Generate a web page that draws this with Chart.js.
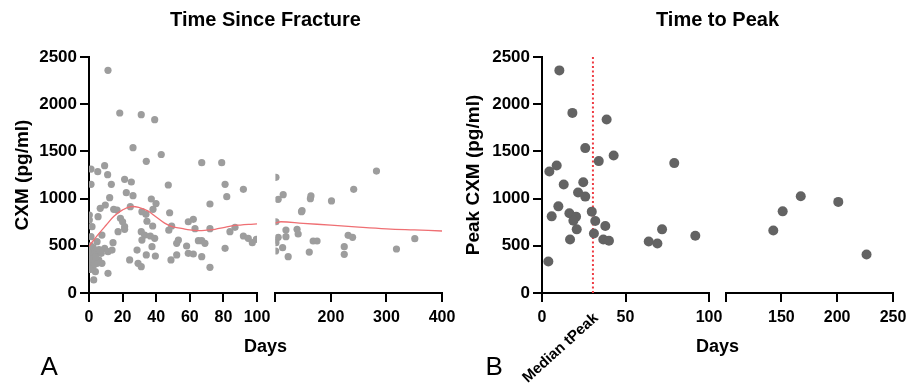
<!DOCTYPE html>
<html><head><meta charset="utf-8">
<script src="https://cdn.jsdelivr.net/npm/chart.js@4"></script>
<style>
html,body{margin:0;padding:0;background:#fff;}
#wrap{position:relative;width:913px;height:390px;overflow:hidden;}
canvas{position:absolute;top:0;}
#cA{left:0;}
#cB{left:456px;}
</style></head><body>
<div id="wrap">
<canvas id="cA" width="456" height="390"></canvas>
<canvas id="cB" width="457" height="390"></canvas>
</div>
<script>
// ---------- DATA ----------
// Panel A: CXM vs time since fracture (days)
const fractureDays = [11.3,18.3,31.1,39.1,26.2,43.0,34.1,1.2,5.2,9.3,11.1,1.2,13.3,21.2,25.2,22.2,26.2,12.3,47.2,37.1,39.9,
  0.2,0.2,1.8,1.2,0.2,1.8,0.8,1.8,3.8,2.8,9.7,6.7,5.4,14.7,16.7,18.7,20.0,17.3,21.2,7.7,4.8,9.3,7.3,11.3,13.7,14.3,5.8,7.7,11.3,4.8,
  2.5,3.5,1.0,2.0,3.0,4.0,6.0,0.5,24.6,21.2,24.2,28.6,29.2,31.1,38.1,31.5,33.9,31.1,33.1,36.5,31.5,37.5,39.1,37.9,34.1,39.5,48.0,47.5,48.8,34.5,
  67.1,79.0,81.0,91.9,82.0,72.0,59.1,62.1,49.2,63.1,72.0,86.9,83.9,53.2,52.2,58.1,65.1,67.1,69.0,91.9,94.8,97.2,99.6,81.0,59.1,62.1,52.2,67.1,72.0,
  101,105,114,101,119,100.5,105,101,119,113,100.5,123,139,141,148,147,164,163,201,168,175,161,241,282,231,239,224,224,318,351];
const fractureCXM = [2359,1907,1889,1836,1539,1467,1395,1313,1285,1349,1253,1151,1151,1204,1176,1063,1031,1010,1144,996,947,
  826,773,703,597,438,385,332,279,226,138,932,897,808,886,879,791,755,650,674,614,544,473,420,438,455,533,350,314,208,314,
  480,420,500,360,300,380,460,250,914,703,350,455,314,279,886,862,833,650,614,604,561,491,579,710,403,392,850,665,350,760,
  1381,1381,1151,1098,1020,943,755,780,710,681,681,696,650,561,526,498,554,554,526,604,579,533,569,473,420,413,403,385,272,
  1225,992,1042,755,667,561,590,533,597,480,445,385,674,625,872,862,1028,999,975,551,551,434,1098,1292,611,590,491,410,466,575];
// Panel A: fitted trend (red curve)
const trendDaysEarly = [0,5,10,15,20,25,30,35,40,45,50,55,60,65,70,75,80,85,90,95,100];
const trendCXMEarly  = [495,610,715,815,880,915,905,870,805,740,700,685,668,660,665,675,692,710,720,727,732];
const trendDaysLate  = [100,110,150,200,250,300,350,400];
const trendCXMLate   = [740,755,738,719,698,680,668,657];

// Panel B: peak CXM vs time to peak (days)
const peakDays = [10.4,18.2,38.7,25.9,42.9,34.0,79.2,4.4,8.8,13.0,24.7,21.6,25.9,9.8,5.8,16.4,20.4,18.8,20.8,16.8,
  29.8,31.9,31.1,37.9,36.7,40.1,3.8,63.9,69.1,71.9,91.8,142.8,151.2,167.4,201.0,226.3];
const peakCXM = [2358,1908,1837,1535,1457,1397,1376,1287,1351,1149,1174,1064,1021,918,812,844,809,766,674,567,
  862,762,631,709,567,553,333,546,525,674,606,663,865,1025,965,407];
const medianTPeak = 30.5;

// Tick labels
const cxmTicks = [0,500,1000,1500,2000,2500];
const daysTicksA = [0,20,40,60,80,100,200,300,400];
const daysTicksB = [0,50,100,150,200,250];
const axisBreak = 100;

// ---------- STYLE / HELPERS ----------
const family = '"Liberation Sans", Arial, Helvetica, sans-serif';
Chart.defaults.font.family = family;
Chart.defaults.color = '#000';
const TICK_LEN = 9;

function pairs(xs, ys, keep) {
  return xs.map((x, i) => ({x: x, y: ys[i]})).filter(p => keep(p.x));
}

function xAxis(min, max, tickList, hideMinLabel) {
  return {
    type: 'linear', position: 'bottom', stack: 'days', stackWeight: 1,
    min: min, max: max,
    afterBuildTicks: s => { s.ticks = tickList.filter(v => v >= min && v <= max).map(v => ({value: v})); },
    ticks: {
      font: {family: family, size: 16, weight: 'bold'}, color: '#000', padding: 6,
      maxRotation: 0, minRotation: 0, autoSkip: false,
      callback: v => (hideMinLabel && v === min) ? '' : String(v)
    },
    grid: {display: true, drawOnChartArea: false, drawTicks: true, tickLength: TICK_LEN,
           tickWidth: 2, tickColor: '#000', color: '#000', lineWidth: 2},
    border: {display: true, color: '#000', width: 2},
    afterFit: s => { s.height = 97; }
  };
}

function yAxis(title, width, titlePad) {
  return {
    type: 'linear', position: 'left', min: 0, max: 2500,
    afterBuildTicks: s => { s.ticks = cxmTicks.map(v => ({value: v})); },
    ticks: {font: {family: family, size: 17, weight: 'bold'}, color: '#000', padding: 3,
            callback: v => String(v)},
    grid: {display: true, drawOnChartArea: false, drawTicks: true, tickLength: TICK_LEN,
           tickWidth: 2, tickColor: '#000', color: '#000', lineWidth: 2},
    border: {display: true, color: '#000', width: 2},
    title: {display: true, text: title, color: '#000',
            font: {family: family, size: 19, weight: 'bold'}, padding: {top: titlePad, bottom: 0}},
    afterFit: s => { s.width = width; }
  };
}

// Broken x axis: fix the plot's right edge and place the two segments with a gap between them
const brokenAxis = {
  id: 'brokenAxis',
  afterLayout(chart, args, opts) {
    const a = chart.chartArea;
    a.right = opts.areaRight; a.width = a.right - a.left;
    const s1 = chart.scales.x1, s2 = chart.scales.x2;
    s1.left = a.left; s1.right = a.left + opts.firstLen; s1.width = s1.right - s1.left;
    s2.left = a.left + opts.secondStart; s2.right = a.right; s2.width = s2.right - s2.left;
    s1.configure(); s2.configure();
  }
};

// Extra text (titles, axis label, panel letters, median label)
const extraText = {
  id: 'extraText',
  afterDraw(chart, args, opts) {
    const ctx = chart.ctx, a = chart.chartArea;
    for (const t of opts.items) {
      ctx.save();
      ctx.font = (t.weight || 'bold') + ' ' + t.size + 'px ' + family;
      ctx.fillStyle = t.color || '#000';
      ctx.textAlign = t.align || 'center';
      ctx.textBaseline = 'alphabetic';
      let x = t.x, y = t.y;
      if (t.x === 'center') x = (a.left + a.right) / 2;
      if (t.atValue !== undefined) { x = chart.scales[t.scale].getPixelForValue(t.atValue) + t.dx; y = a.bottom + t.dy; }
      ctx.translate(x, y);
      if (t.rotate) ctx.rotate(t.rotate * Math.PI / 180);
      ctx.fillText(t.text, 0, 0);
      ctx.restore();
    }
  }
};

const common = {
  responsive: false, animation: false, devicePixelRatio: 1,
  plugins: {legend: {display: false}, tooltip: {enabled: false}, title: {display: false}}
};

// ---------- PANEL A ----------
new Chart(document.getElementById('cA'), {
  type: 'scatter',
  data: {datasets: [
    {data: pairs(trendDaysEarly, trendCXMEarly, d => d <= axisBreak), xAxisID: 'x1', yAxisID: 'y',
     showLine: true, borderColor: '#ef6f73', borderWidth: 1.3, pointRadius: 0, tension: 0.4, fill: false, order: 0},
    {data: pairs(trendDaysLate, trendCXMLate, d => d >= axisBreak), xAxisID: 'x2', yAxisID: 'y',
     showLine: true, borderColor: '#ef6f73', borderWidth: 1.3, pointRadius: 0, tension: 0.4, fill: false, order: 0},
    {data: pairs(fractureDays, fractureCXM, d => d <= axisBreak), xAxisID: 'x1', yAxisID: 'y',
     pointRadius: 3.6, backgroundColor: '#9d9d9d', borderWidth: 0, order: 1},
    {data: pairs(fractureDays, fractureCXM, d => d > axisBreak), xAxisID: 'x2', yAxisID: 'y',
     pointRadius: 3.6, backgroundColor: '#9d9d9d', borderWidth: 0, order: 1}
  ]},
  options: Object.assign({}, common, {
    layout: {padding: {top: 57, right: 14, bottom: 0, left: 0}},
    scales: {
      x1: xAxis(0, axisBreak, daysTicksA, false),
      x2: xAxis(axisBreak, 400, daysTicksA, true),
      y: yAxis('CXM (pg/ml)', 89, 11.6)
    },
    plugins: Object.assign({}, common.plugins, {
      brokenAxis: {areaRight: 442, firstLen: 168, secondStart: 186.4},
      extraText: {items: [
        {text: 'Time Since Fracture', x: 'center', y: 26, size: 20},
        {text: 'Days', x: 'center', y: 352, size: 18},
        {text: 'A', x: 40.5, y: 375, size: 26, weight: 'normal', align: 'left'}
      ]}
    })
  }),
  plugins: [brokenAxis, extraText]
});

// ---------- PANEL B ----------
new Chart(document.getElementById('cB'), {
  type: 'scatter',
  data: {datasets: [
    {data: [{x: medianTPeak, y: cxmTicks[0]}, {x: medianTPeak, y: cxmTicks[cxmTicks.length - 1]}],
     xAxisID: 'x1', yAxisID: 'y', showLine: true, borderColor: '#ee3b43', borderWidth: 2,
     borderDash: [2, 2.5], pointRadius: 0, fill: false, order: 2},
    {data: pairs(peakDays, peakCXM, d => d <= axisBreak), xAxisID: 'x1', yAxisID: 'y',
     pointRadius: 5, backgroundColor: '#636363', borderWidth: 0, order: 1},
    {data: pairs(peakDays, peakCXM, d => d > axisBreak), xAxisID: 'x2', yAxisID: 'y',
     pointRadius: 5, backgroundColor: '#636363', borderWidth: 0, order: 1}
  ]},
  options: Object.assign({}, common, {
    layout: {padding: {top: 57, right: 20, bottom: 0, left: 0}},
    scales: {
      x1: xAxis(0, axisBreak, daysTicksB, false),
      x2: xAxis(axisBreak, 250, daysTicksB, true),
      y: yAxis('Peak CXM (pg/ml)', 86, 6.1)
    },
    plugins: Object.assign({}, common.plugins, {
      brokenAxis: {areaRight: 437, firstLen: 167, secondStart: 183.5},
      extraText: {items: [
        {text: 'Time to Peak', x: 'center', y: 26, size: 20},
        {text: 'Days', x: 'center', y: 352, size: 18},
        {text: 'B', x: 29.5, y: 375, size: 26, weight: 'normal', align: 'left'},
        {text: 'Median tPeak', scale: 'x1', atValue: medianTPeak, dx: 6, dy: 26, size: 15, align: 'right', rotate: -42}
      ]}
    })
  }),
  plugins: [brokenAxis, extraText]
});
</script>
</body></html>
